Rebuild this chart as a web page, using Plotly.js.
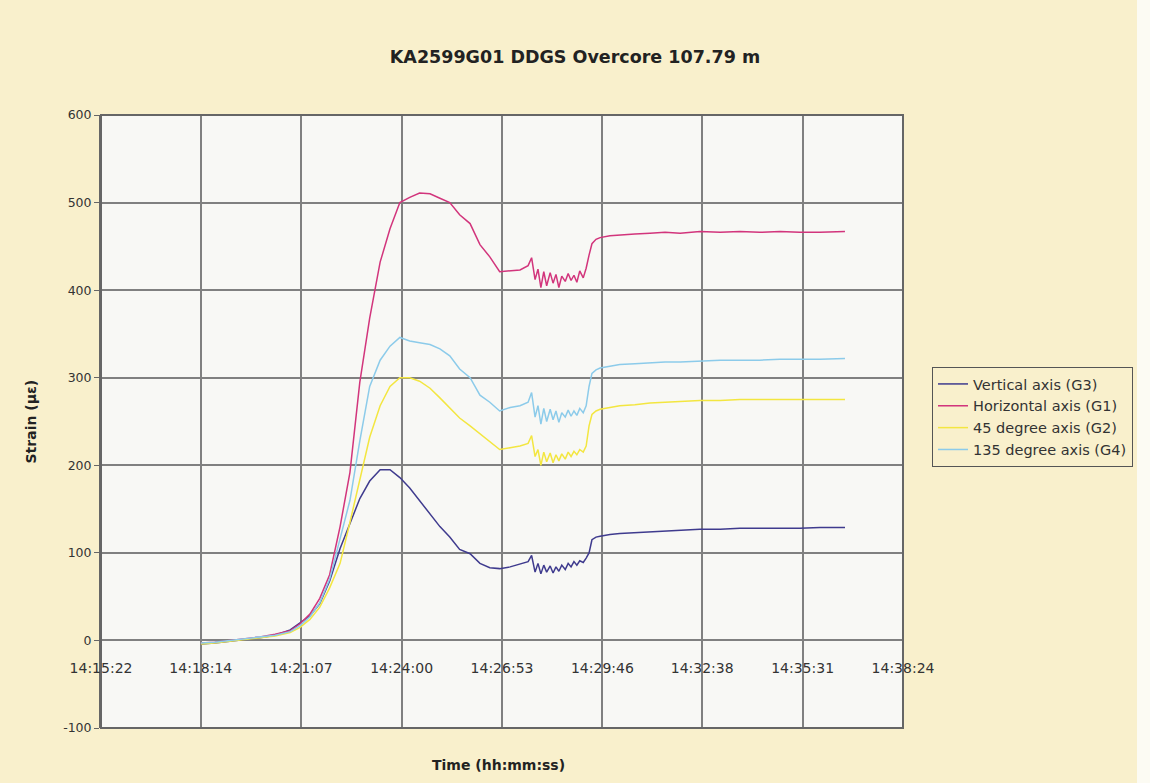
<!DOCTYPE html>
<html>
<head>
<meta charset="utf-8">
<script src="https://cdn.plot.ly/plotly-3.0.1.min.js"></script>
<style>
  html, body { margin: 0; padding: 0; background: #f9f0cc; }
  #chart { width: 1150px; height: 783px; }
</style>
</head>
<body>
<div id="chart"></div>
<script>
// ---- Data ----
const chartTitle = 'KA2599G01 DDGS Overcore 107.79 m';
const xTitle = 'Time (hh:mm:ss)';
const yTitle = 'Strain (µε)';

const tickLabels = ['14:15:22','14:18:14','14:21:07','14:24:00','14:26:53','14:29:46','14:32:38','14:35:31','14:38:24'];
const yTicks = [-100, 0, 100, 200, 300, 400, 500, 600];
const yTickLabels = ['-100', '0', '100', '200', '300', '400', '500', '600'];

const times = ['14:18:14','14:18:38','14:19:04','14:19:30','14:19:56','14:20:22','14:20:48',
  '14:21:05','14:21:22','14:21:39','14:21:56','14:22:14','14:22:31','14:22:48','14:23:05','14:23:23','14:23:40','14:23:57',
  '14:24:14','14:24:31','14:24:49','14:25:06','14:25:23','14:25:40','14:25:58','14:26:15','14:26:32','14:26:49','14:27:07','14:27:24',
  '14:27:38','14:27:44',
  '14:27:50','14:27:55','14:28:00','14:28:05','14:28:10','14:28:16','14:28:21','14:28:26','14:28:31','14:28:36',
  '14:28:42','14:28:47','14:28:52','14:28:57','14:29:02','14:29:07','14:29:13','14:29:18','14:29:23','14:29:28',
  '14:29:35','14:29:42','14:29:59','14:30:16','14:30:42','14:31:08','14:31:34','14:32:00','14:32:34','14:33:09',
  '14:33:43','14:34:17','14:34:52','14:35:26','14:36:01','14:36:44'];

const seriesNames = ['Vertical axis (G3)', 'Horizontal axis (G1)', '45 degree axis (G2)', '135 degree axis (G4)'];

const verticalG3 = [-4,-3,-1,1,3,6,12,
  20,28,42,68,105,133,162,182,195,195,186,
  174,160,145,130,118,104,99,88,83,82,84,87,
  90,97,
  78,88,76,86,78,85,77,84,79,86,81,88,84,90,86,91,89,94,100,115,
  118,119,121,122,123,124,125,126,127,127,128,128,128,128,129,129];

const horizontalG1 = [-3,-2,0,2,4,7,11,
  19,30,48,75,130,192,295,368,432,470,500,
  506,511,510,505,500,486,476,452,438,421,422,423,
  428,437,
  412,424,403,421,405,420,408,418,403,416,410,419,411,417,409,422,414,425,440,453,
  458,460,462,463,464,465,466,465,467,466,467,466,467,466,466,467];

const deg45G2 = [-4,-3,-1,1,3,5,9,
  15,24,38,60,88,135,185,232,268,290,300,
  300,296,288,277,266,254,245,236,226,218,220,222,
  225,234,
  210,218,200,215,204,214,203,212,205,213,207,215,210,216,212,218,215,222,245,258,
  262,264,266,268,269,271,272,273,274,274,275,275,275,275,275,275];

const deg135G4 = [-3,-2,0,2,4,6,10,
  17,27,43,70,115,160,228,290,320,336,346,
  342,340,338,333,325,310,300,280,272,262,266,268,
  272,283,
  255,268,247,265,250,264,252,262,249,260,255,263,256,262,257,265,260,268,290,305,
  309,311,313,315,316,317,318,318,319,320,320,320,321,321,321,322];

// ---- Helpers ----
function toSec(s) { const p = s.split(':').map(Number); return p[0]*3600 + p[1]*60 + p[2]; }
const xs = times.map(toSec);
const tickVals = tickLabels.map(toSec);

const colors = ['#3f3b8e', '#d2357c', '#f3e640', '#8ccbea'];
const values = [verticalG3, horizontalG1, deg45G2, deg135G4];

const traces = values.map((v, i) => ({
  type: 'scatter', mode: 'lines', name: seriesNames[i],
  x: xs, y: v,
  line: { color: colors[i], width: 1.5 }
}));

const FONT = 'DejaVu Sans, Verdana, sans-serif';
const gridCol = '#808080';

const layout = {
  width: 1150, height: 783,
  paper_bgcolor: '#f9f0cc',
  plot_bgcolor: '#f8f8f5',
  margin: { l: 101, r: 247, t: 115, b: 55 },
  showlegend: true,
  title: {
    text: chartTitle, xref: 'container', x: 0.5, xanchor: 'center',
    yref: 'container', y: 1 - 57/783, yanchor: 'middle',
    font: { family: FONT, size: 17.5, weight: 'bold', color: '#222' }
  },
  xaxis: {
    type: 'linear',
    range: [tickVals[0], tickVals[tickVals.length - 1]],
    tickmode: 'array', tickvals: tickVals, ticktext: tickLabels,
    anchor: 'free', position: 100/700,
    showgrid: true, gridcolor: gridCol, gridwidth: 2,
    zeroline: false, showline: false,
    ticks: 'outside', ticklen: 15, tickcolor: 'rgba(0,0,0,0)',
    tickfont: { family: FONT, size: 14, color: '#333' },
    fixedrange: true
  },
  yaxis: {
    range: [yTicks[0], yTicks[yTicks.length - 1]],
    tickmode: 'array', tickvals: yTicks, ticktext: yTickLabels,
    showgrid: true, gridcolor: gridCol, gridwidth: 2,
    zeroline: true, zerolinecolor: '#808080', zerolinewidth: 2,
    showline: true, linecolor: '#666', linewidth: 2,
    ticks: 'outside', ticklen: 5, tickcolor: '#666',
    tickfont: { family: FONT, size: 12.5, color: '#333' },
    fixedrange: true
  },
  legend: {
    xref: 'container', yref: 'container',
    x: 932/1150, xanchor: 'left',
    y: 1 - 367/783, yanchor: 'top',
    bgcolor: '#f9f0cc', bordercolor: '#555', borderwidth: 1,
    font: { family: FONT, size: 14.5, color: '#333' },
    tracegroupgap: 0
  },
  annotations: [
    { text: xTitle, xref: 'paper', yref: 'paper', x: (498-101)/802, y: -(765-728)/613, xanchor: 'center', yanchor: 'middle',
      showarrow: false, font: { family: FONT, size: 14, weight: 'bold', color: '#222' } },
    { text: yTitle, xref: 'paper', yref: 'paper', x: (30-101)/802, y: 0.5, xanchor: 'center', yanchor: 'middle',
      textangle: -90, showarrow: false, font: { family: FONT, size: 14, weight: 'bold', color: '#222' } }
  ],
  shapes: [
    { type: 'rect', xref: 'paper', yref: 'paper', x0: 0, x1: 1, y0: 0, y1: 1,
      line: { color: '#666', width: 2 }, fillcolor: 'rgba(0,0,0,0)' },
    { type: 'rect', xref: 'paper', yref: 'paper', x0: (1137-101)/802, x1: (1152-101)/802, y0: -0.2, y1: 1.3,
      line: { width: 0 }, fillcolor: '#fcfbf3', layer: 'below' }
  ]
};

Plotly.newPlot('chart', traces, layout, { displayModeBar: false, staticPlot: true });
</script>
</body>
</html>
